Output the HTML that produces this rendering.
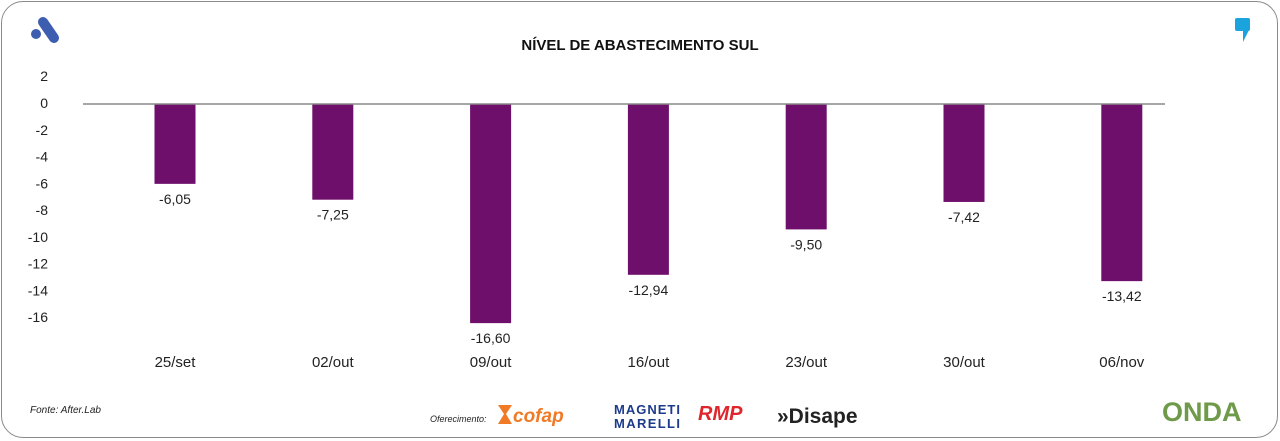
<!DOCTYPE html>
<html><head><meta charset="utf-8"><style>
body{margin:0;width:1280px;height:441px;background:#fff;overflow:hidden;font-family:"Liberation Sans",sans-serif}
#frame{position:absolute;left:1px;top:1px;width:1275px;height:435px;border:1.5px solid #8a8a8a;border-radius:22px}
</style></head><body>
<div id="frame"></div>
<svg width="1280" height="441" style="position:absolute;left:0;top:0" id="chart">
<g>
<line x1="43" y1="22" x2="54" y2="38" stroke="#3d5db0" stroke-width="10" stroke-linecap="round"/>
<circle cx="36" cy="34" r="5" fill="#3d5db0"/></g>
<g><rect x="1235" y="18" width="15" height="13" rx="2" fill="#1aa3dc"/><path d="M1243 30 L1249 30 L1243 42 Z" fill="#1aa3dc"/></g>
<text x="640" y="50" text-anchor="middle" font-size="15" font-weight="bold" fill="#111">NÍVEL DE ABASTECIMENTO SUL</text>
<g id="yaxis"></g><g id="bars"></g>
<text x="30" y="413" font-size="10" font-style="italic" fill="#222">Fonte: After.Lab</text>
<text x="430" y="422" font-size="9" font-style="italic" fill="#222">Oferecimento:</text>
<g><path d="M498 405 L512 405 L506 414 L512 424 L498 424 L504 414Z" fill="#f07a26"/><text x="513" y="422" font-size="19" font-weight="bold" font-style="italic" fill="#f07a26">cofap</text></g>
<text x="614" y="414" font-size="13" font-weight="bold" fill="#1d3b8c" textLength="66">MAGNETI</text>
<text x="614" y="428" font-size="13" font-weight="bold" fill="#1d3b8c" textLength="66">MARELLI</text>
<text x="698" y="420" font-size="20" font-weight="bold" font-style="italic" fill="#e0262d">RMP</text>
<text x="777" y="423" font-size="21" font-weight="bold" fill="#222">»Disape</text>
<text x="1162" y="421" font-size="27" font-weight="bold" fill="#6e9a4a">ONDA</text>
</svg>
<script>
const categories=["25/set","02/out","09/out","16/out","23/out","30/out","06/nov"];
const values=[-6.05,-7.25,-16.60,-12.94,-9.50,-7.42,-13.42];
const labels=["-6,05","-7,25","-16,60","-12,94","-9,50","-7,42","-13,42"];
const yTicks=[2,0,-2,-4,-6,-8,-10,-12,-14,-16];
const NS="http://www.w3.org/2000/svg";
const y0=104, unit=13.2;
function y(v){return y0-v*unit;}
function yt(v){return 103-v*13.39;}
function x(i){return 175+i*157.8;}
function mk(tag,attrs,parent){const e=document.createElementNS(NS,tag);for(const k in attrs)e.setAttribute(k,attrs[k]);parent.appendChild(e);return e;}
const ya=document.getElementById('yaxis'), bg=document.getElementById('bars');
yTicks.forEach(t=>{const e=mk('text',{x:48,y:yt(t)+5,'text-anchor':'end','font-size':14,fill:'#222'},ya);e.textContent=t;

});
values.forEach((v,i)=>{
const r=mk('rect',{x:x(i)-20.5,y:y(0),width:41,height:y(v)-y(0),fill:'#6e0f6b'},bg);


const l=mk('text',{x:x(i),y:y(v)+20,'text-anchor':'middle','font-size':14,fill:'#222'},bg);l.textContent=labels[i];


const c=mk('text',{x:x(i),y:367,'text-anchor':'middle','font-size':15,fill:'#222'},bg);c.textContent=categories[i];


});
const zl=mk('line',{x1:83,x2:1165,y1:y(0),y2:y(0),stroke:'#888','stroke-width':1.5},bg);


</script>
</body></html>
